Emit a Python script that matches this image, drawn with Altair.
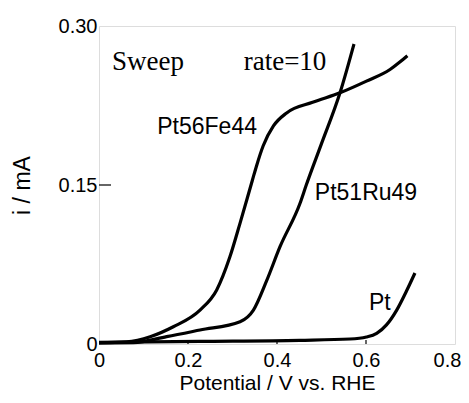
import altair as alt
import pandas as pd

# Pt56Fe44 curve
fe_x = [0.0, 0.062, 0.115, 0.167, 0.227, 0.2645, 0.294, 0.317, 0.345, 0.354, 0.369, 0.392, 0.4217, 0.48, 0.5416, 0.601, 0.654, 0.676, 0.693]
fe_y = [0.001, 0.002, 0.0069, 0.0163, 0.032, 0.051, 0.082, 0.114, 0.155, 0.168, 0.187, 0.2057, 0.218, 0.228, 0.237, 0.248, 0.259, 0.266, 0.272]

# Pt51Ru49 curve
ru_x = [0.0, 0.077, 0.152, 0.227, 0.317, 0.347, 0.377, 0.407, 0.452, 0.465, 0.50, 0.5416, 0.573]
ru_y = [0.001, 0.0013, 0.0069, 0.0132, 0.021, 0.032, 0.060, 0.092, 0.133, 0.149, 0.189, 0.237, 0.283]

# Pt curve
pt_x = [0.0, 0.226, 0.451, 0.564, 0.601, 0.624, 0.646, 0.669, 0.691, 0.710]
pt_y = [0.0015, 0.0025, 0.0035, 0.0047, 0.0066, 0.010, 0.018, 0.032, 0.050, 0.067]

# annotations
sans_labels = ["Pt56Fe44", "Pt51Ru49", "Pt"]
sans_x = [0.243, 0.600, 0.631]
sans_y = [0.2047, 0.1425, 0.0387]
serif_labels = ["Sweep", "rate=10"]
serif_x = [0.110, 0.418]
serif_y = [0.266, 0.266]

x_ticks = [0, 0.2, 0.4, 0.6, 0.8]
y_ticks = [0, 0.15, 0.30]

rows = []
for name, xs, ys in [("Pt56Fe44", fe_x, fe_y), ("Pt51Ru49", ru_x, ru_y), ("Pt", pt_x, pt_y)]:
    for i, (a, b) in enumerate(zip(xs, ys)):
        rows.append({"series": name, "x": a, "y": b, "order": i})
df = pd.DataFrame(rows)

xs = alt.Scale(domain=[0, 0.8], nice=False)
ys = alt.Scale(domain=[0, 0.30], nice=False)

FONT = "Liberation Sans"

lines = alt.Chart(df).mark_line(color="black", strokeWidth=3.2, interpolate="monotone").encode(
    x=alt.X("x:Q", scale=xs, axis=alt.Axis(
        values=x_ticks, title="Potential / V vs. RHE", tickSize=0, domain=False, grid=False,
        labelExpr="datum.value == 0 ? '0' : format(datum.value, '.1f')",
        labelFont=FONT, labelFontSize=20, labelColor="black", labelPadding=6,
        labelOffset=alt.condition("datum.value >= 0.79", alt.value(-8), alt.value(0)),
        titleFont=FONT, titleFontSize=21, titleFontWeight="normal", titleColor="black", titlePadding=2,
        labelFlush=False)),
    y=alt.Y("y:Q", scale=ys, axis=alt.Axis(
        values=y_ticks, title="i / mA", tickSize=0, domain=False, grid=False,
        labelExpr="datum.value == 0 ? '0' : format(datum.value, '.2f')",
        labelFont=FONT, labelFontSize=20, labelColor="black", labelPadding=2,
        titleFont=FONT, titleFontSize=23, titleFontWeight="normal", titleColor="black", titlePadding=24,
        labelFlush=False)),
    detail="series:N",
    order="order:Q",
)

xt = alt.Chart(pd.DataFrame({"t": x_ticks[1:-1]})).mark_rule(color="black", strokeWidth=1.2).encode(
    x=alt.X("t:Q", scale=xs), y=alt.value(318), y2=alt.value(314))
yt = alt.Chart(pd.DataFrame({"t": y_ticks[1:-1]})).mark_rule(color="black", strokeWidth=1.2).encode(
    y=alt.Y("t:Q", scale=ys), x=alt.value(0), x2=alt.value(12))

t1 = alt.Chart(pd.DataFrame({"label": sans_labels, "x": sans_x, "y": sans_y})).mark_text(
    font=FONT, fontSize=23, color="black").encode(
    x=alt.X("x:Q", scale=xs), y=alt.Y("y:Q", scale=ys), text="label:N")
t2 = alt.Chart(pd.DataFrame({"label": serif_labels, "x": serif_x, "y": serif_y})).mark_text(
    font="Liberation Serif", fontSize=27, color="black").encode(
    x=alt.X("x:Q", scale=xs), y=alt.Y("y:Q", scale=ys), text="label:N")

chart = alt.layer(lines, xt, yt, t1, t2).properties(
    width=356, height=318,
    autosize=alt.AutoSizeParams(type="none"),
    padding={"left": 91, "top": 18, "right": 6, "bottom": 51},
).configure_view(stroke="black", strokeWidth=1.5).configure(background="white")

chart.save("out.html", embed_options={"renderer": "svg", "actions": False})
